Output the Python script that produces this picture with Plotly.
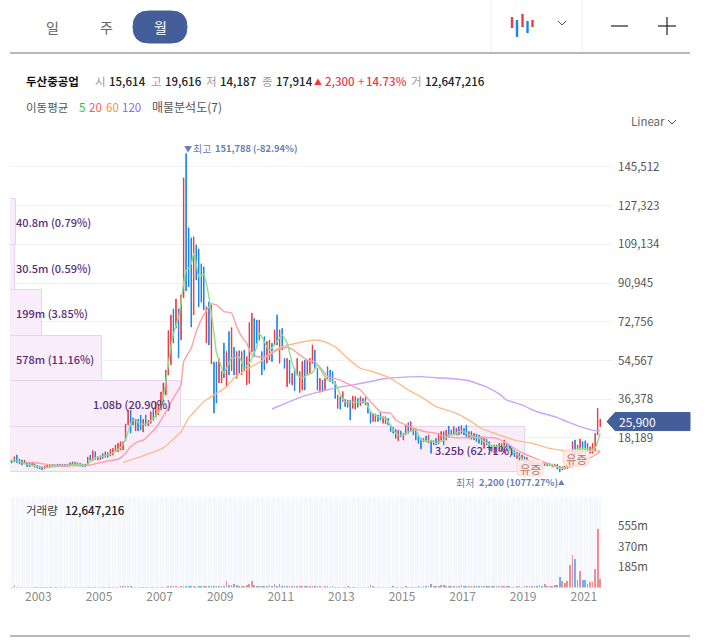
import pandas as pd
import plotly.graph_objects as go

FONT = "Noto Sans CJK KR"
W, H = 704, 643

# monthly candles, 2002-02 .. 2021-08
months = pd.date_range("2002-02-01", "2021-08-01", freq="MS")

hi = [7850,7850,9400,10200,8300,7800,7800,6900,6400,6400,6100,
      5400,5000,4700,5000,5400,5600,5800,5700,5800,5900,5900,5800,
      5900,6500,7000,6900,6600,6300,6000,5900,9200,10200,12200,11750,
      9400,9900,11000,11750,11300,12850,13300,14900,15700,16450,16450,24750,
      31350,31300,27600,27000,27000,29000,27000,29000,26500,30500,32000,35000,
      34000,39800,44000,50100,68600,76000,78800,83500,78800,85400,140400,151788,
      116900,112200,112700,108900,107000,100000,98600,79800,82100,80700,53900,53900,
      55300,49400,62800,58800,68200,70000,60800,58800,59200,58800,59500,56400,
      72400,76800,74400,73600,73600,58800,65800,63500,64200,62700,69000,76000,
      69000,69700,55600,55600,54800,48600,50900,55600,49400,54100,54800,54800,
      55600,61900,59500,50900,46200,45400,46200,51700,50100,49400,44700,38400,
      37600,40000,36400,36000,36000,37900,37600,36800,37600,36800,37300,34800,
      30600,29800,29500,29000,30100,28200,28200,27400,24300,23200,22300,21900,
      21500,20400,24300,25400,25900,22700,22300,19600,18000,18000,19100,19600,
      17250,16900,18000,20400,21200,21200,21900,23800,21900,23500,22700,23500,
      24000,22700,24300,21200,21200,20400,20100,19600,18800,18000,17600,16500,
      14900,14900,14900,15700,15700,17250,15700,14900,13300,12500,11450,11000,
      10200,9400,9100,7850,7100,6900,6600,6200,6300,6600,6300,6300,
      5950,5800,5800,5000,4700,5000,6000,7500,16500,17250,14900,17700,
      16500,16900,15700,14100,15700,20400,32100,27100]
lo = [6450,6500,7000,6600,6000,5500,6000,4700,4700,5000,4400,
      4000,3600,3300,3700,4300,4400,4600,4600,4700,4800,4800,4800,
      4900,5000,5200,5100,5000,4900,4700,4700,5500,7850,7500,8150,
      7850,8150,8600,9100,9100,9700,10200,11750,11750,12550,12550,16950,
      24300,20500,24300,21500,21500,22000,21000,24000,24000,25000,26500,28000,
      29000,31300,36000,38400,47800,52500,62800,69800,55800,64200,84000,87300,
      89200,70300,76000,92400,79800,82000,78300,62800,61900,53000,29900,34600,
      44000,44000,46400,42000,47800,49800,47800,46200,48600,47800,49400,43100,
      43900,58800,56400,62700,64200,47800,50100,53300,54800,54100,62000,61900,
      53300,59500,50900,42300,43900,43100,40400,47800,39500,40700,40700,47800,
      48600,53300,50900,40700,39600,39900,40700,46200,44700,43900,36800,32100,
      31700,35300,32900,32600,26600,32100,31700,32600,33400,34500,33700,29800,
      25100,25900,25900,25900,26600,25100,24750,24300,21200,20400,18000,16900,
      18800,17200,19600,20400,21200,19600,17200,15700,13000,16450,16450,16000,
      11000,14900,14900,15350,17200,14900,17200,18800,19600,19600,19600,19600,
      20100,19600,18800,18000,17600,17200,16500,15700,14900,13300,14900,12500,
      11800,11000,11800,11800,12200,11000,12500,12500,10200,9400,8600,7850,
      7550,6600,7100,5500,4700,4900,4400,4100,4700,5300,5000,5200,
      4700,4700,3500,2200,3100,3450,3800,4700,9400,10200,10200,11000,
      11300,11000,11800,11000,11000,11800,19600,23500]
rising = [0,0,1,0,0,0,1,0,0,1,0,
          0,0,0,1,1,0,1,0,1,0,1,0,
          1,1,0,1,0,0,0,1,1,0,1,0,
          1,1,0,1,0,1,1,1,1,1,1,1,
          1,0,0,1,0,0,1,0,1,1,0,1,
          1,1,1,1,1,1,0,1,0,1,1,0,
          0,0,1,0,0,0,0,1,0,1,0,0,
          1,1,0,1,0,1,0,1,0,1,0,1,
          1,1,0,0,1,0,0,1,1,0,1,0,
          1,0,0,1,0,1,0,1,1,1,0,1,
          1,1,0,0,1,0,1,0,0,0,0,1,
          0,1,0,1,0,1,1,0,1,0,1,0,
          0,1,1,0,0,1,1,0,0,0,0,1,
          0,1,1,0,1,0,0,0,0,1,0,1,
          0,1,0,1,1,0,1,0,1,0,1,0,
          1,0,0,1,0,1,0,0,0,1,0,0,
          0,1,0,1,1,1,0,0,0,0,1,0,
          1,0,1,0,1,0,0,0,0,1,0,1,
          1,1,0,0,1,1,1,1,1,0,1,1,
          0,0,0,1,1,1,1,1]
volume_m = [30,8,28,6,8,6,8,7,8,6,7,
            5,6,5,6,7,5,8,6,5,6,7,5,
            8,7,6,7,6,5,5,6,5,6,5,5,
            7,8,9,7,8,8,9,8,8,10,12,12,
            14,10,8,8,7,8,8,6,6,7,8,8,
            9,7,8,9,10,14,12,10,8,12,14,10,
            16,12,10,8,10,12,10,12,14,16,20,22,
            20,18,22,60,30,26,32,24,22,20,22,26,
            40,62,26,16,14,12,12,22,26,18,34,20,
            32,18,22,20,18,14,16,14,20,16,12,12,
            14,20,12,10,10,9,10,10,9,10,8,8,
            9,8,8,10,8,7,8,7,8,7,7,8,
            30,10,7,8,7,6,8,7,8,10,9,8,
            8,7,10,8,8,9,9,10,9,12,10,10,
            40,22,18,16,30,24,12,16,20,14,14,12,
            24,16,20,10,16,12,18,12,10,10,12,14,
            22,20,18,16,18,20,12,10,8,6,18,10,
            8,10,21,21,21,22,16,24,18,33,15,15,
            15,27,30,96,66,48,66,210,300,264,75,150,
            75,75,39,54,57,174,534,84]

# moving averages, month = months after 2003-01
ma5_m = [-11,-9,-7,-5,-3,-1,1,3,5,7,9,11,13,15,17,19,20,21,23,25,27,29,31,33,35,36,37,38,39,41,43,45,47,49,50,51,52,53,54,55,56,57,58,59,60,61,62,63,64,66,68,70,71,72,74,76,77,78,80,82,84,87,88,91,92,94,97,99,101,103,105,107,109,111,113,115,116,118,120,122,124,126,130,132,135,138,141,143,145,147,150,152,154,156,158,161,163,165,167,169,171,175,177,181,185,188,191,194,197,200,204,207,209,210,213,216,219,221,222,223]
ma5_v = [7200,7800,7000,6200,5500,5000,4500,4200,4600,5000,5200,5300,5400,5900,5700,5300,6000,7200,8900,9300,9900,10600,12000,13700,17500,21000,24700,26800,26500,24700,24700,26300,28500,32500,37000,45000,53000,61000,67000,71000,75000,82000,91000,97000,98000,100000,105000,100000,94000,95000,84500,67500,58100,54800,48700,53400,55800,55800,56300,51000,53400,61000,67500,61100,59500,61900,66600,62800,53400,47800,46400,47800,48900,52500,48700,45400,45400,44000,38400,35200,35100,34900,35200,30500,28200,27500,21900,19600,19600,20900,21900,17300,16900,16900,15700,17200,19600,19800,21200,21200,19600,18000,16500,14100,14100,12500,9400,7050,6400,6400,5500,4100,4200,5500,12500,13500,12500,13500,16500,20400]
ma20_m = [-4,-1,8,15,19,23,28,32,35,37,40,42,47,51,54,57,58,61,63,66,69,71,74,77,79,81,83,85,89,92,95,99,101,104,107,110,113,115,120,124,128,132,136,140,142,146,150,154,158,161,166,171,176,182,186,190,194,198,202,206,209,213,218,221,223]
ma20_v = [6600,6700,5000,5200,5200,6000,7400,8200,11000,14100,16500,17200,22900,30500,37000,43100,54000,60500,68100,76000,81200,80700,77600,76900,70500,65800,62700,57200,56100,57200,59500,60800,59900,57200,54800,54000,50100,47000,45400,43100,40700,35200,30500,29800,26600,24300,22400,21100,20400,18800,18300,18300,18500,18000,15700,12500,10200,8300,6400,4700,4000,5400,8300,10200,11800]
ma60_m = [34,41,50,57,60,66,70,75,78,84,89,93,97,103,110,114,118,123,128,133,140,146,153,158,166,171,176,183,189,196,203,209,216,223]
ma60_v = [6750,9400,13500,21100,27500,35200,38400,42200,46400,51100,54500,58700,61100,62800,64200,63400,61100,55600,50900,49300,46200,41500,36800,32900,29800,26600,22700,19600,17200,15700,13300,12200,11800,12200]
ma120_m = [93,99,105,113,121,129,137,145,152,158,166,171,178,183,186,192,198,205,210,216,220,223]
ma120_v = [31800,34800,37600,40300,42300,44000,45900,46800,47000,46500,45900,45100,42100,38900,36000,33700,30500,28200,25800,23200,21900,21400]

# 매물분석도
vp_price = [12885, 34255, 55625, 76995, 98365, 119735]
vp_volume = [3250, 1080, 578, 199, 30.5, 40.8]
vp_step = 21370
vp_labels = ["3.25b (62.71%)", "1.08b (20.90%)", "578m (11.16%)", "199m (3.85%)", "30.5m (0.59%)", "40.8m (0.79%)"]

price_ticks = [18189, 36378, 54567, 72756, 90945, 109134, 127323, 145512]
volume_ticks = [185, 370, 555]
year_ticks = [2003, 2005, 2007, 2009, 2011, 2013, 2015, 2017, 2019, 2021]
last_close = 25900


def px(x):
    return x / W


def py(y):
    return 1 - y / H


def month_dates(offsets):
    return [pd.Timestamp("2003-01-01") + pd.DateOffset(months=m) for m in offsets]


# pixel scale of the panes
LEFT, RIGHT = 10, 612
won_per_px = 469.8
main_top, main_bottom = 145, 476.7
vol_top, vol_bottom = 496.5, 587.5
m_per_px = 9.02
px_per_day = 2.525 * 12 / 365.25
t0 = pd.Timestamp("2003-01-01")
x_start = t0 - pd.Timedelta(days=(37.2 - LEFT) / px_per_day)
x_end = t0 + pd.Timedelta(days=(RIGHT - 37.2) / px_per_day)
x_range = [x_start, x_end]
domain_x = [px(LEFT), px(RIGHT)]

op = [l if u else h for h, l, u in zip(hi, lo, rising)]
cl = [h if u else l for h, l, u in zip(hi, lo, rising)]
RED, BLUE = "#ee3a3f", "#1a83ee"

fig = go.Figure()

fig.add_trace(go.Bar(
    x=vp_volume, y=vp_price, orientation="h", width=vp_step,
    marker=dict(color="#f9edfb", line=dict(color="#e6d3ee", width=1)),
    xaxis="x", yaxis="y", hoverinfo="skip",
))

fig.add_trace(go.Candlestick(
    x=months, open=op, high=hi, low=lo, close=cl, whiskerwidth=0,
    increasing=dict(line=dict(color=RED, width=1), fillcolor=RED),
    decreasing=dict(line=dict(color=BLUE, width=1), fillcolor=BLUE),
    xaxis="x2", yaxis="y",
))

ma_lines = [
    (ma120_m, ma120_v, "#c8a4fb"),
    (ma60_m, ma60_v, "#fdbd8b"),
    (ma20_m, ma20_v, "#fda0a4"),
    (ma5_m, ma5_v, "#8ede8a"),
]
for ma_m, ma_v, color in ma_lines:
    fig.add_trace(go.Scatter(
        x=month_dates(ma_m), y=ma_v, mode="lines",
        line=dict(color=color, width=1.4, shape="spline", smoothing=0.4),
        xaxis="x2", yaxis="y",
    ))

# stripes behind the volume pane, one per month
fig.add_trace(go.Bar(
    x=months, y=[(vol_bottom - vol_top) * m_per_px] * len(months), width=1.5e9,
    marker=dict(color="#f6f7fc", line=dict(width=0)),
    xaxis="x3", yaxis="y2", hoverinfo="skip",
))
fig.add_trace(go.Bar(
    x=months, y=volume_m, width=0.8e9,
    marker=dict(color=["#f08d90" if u else "#72b2f2" for u in rising], line=dict(width=0)),
    xaxis="x3", yaxis="y2",
))

fig.update_layout(
    width=W, height=H, margin=dict(l=0, r=0, t=0, b=0),
    paper_bgcolor="white", plot_bgcolor="white",
    showlegend=False, barmode="overlay", bargap=0, boxgap=0.75,
    font=dict(family=FONT, size=12, color="#444"),
    xaxis=dict(domain=domain_x, range=[0, (RIGHT - LEFT) * 6.31], visible=False, anchor="y"),
    xaxis2=dict(domain=domain_x, range=x_range, type="date", overlaying="x", anchor="y",
                visible=False, rangeslider=dict(visible=False)),
    xaxis3=dict(domain=domain_x, range=x_range, type="date", anchor="y2",
                tickvals=[f"{y}-01-15" for y in year_ticks], ticktext=[str(y) for y in year_ticks],
                ticks="", showgrid=False, zeroline=False, showline=False,
                tickfont=dict(size=12, color="#8a8a8a", family=FONT)),
    yaxis=dict(domain=[py(main_bottom), py(main_top)],
               range=[0, (main_bottom - main_top) * won_per_px],
               side="right", anchor="x", tickvals=price_ticks,
               ticktext=[f"{v:,}" for v in price_ticks], ticklabelstandoff=5,
               gridcolor="#f2f2f6", gridwidth=1, zeroline=False, ticks="", showline=False,
               tickfont=dict(size=11.5, color="#555", family=FONT)),
    yaxis2=dict(domain=[py(vol_bottom), py(vol_top)],
                range=[0, (vol_bottom - vol_top) * m_per_px],
                side="right", anchor="x3", tickvals=volume_ticks,
                ticktext=[f"{v}m" for v in volume_ticks], ticklabelstandoff=5,
                showgrid=False, zeroline=False, ticks="", showline=False,
                tickfont=dict(size=11.5, color="#555", family=FONT)),
)


def rect(x0, y0, x1, y1, fill=None, line=None, lw=1):
    fig.add_shape(type="rect", xref="paper", yref="paper",
                  x0=px(x0), x1=px(x1), y0=py(y0), y1=py(y1),
                  fillcolor=fill, line=dict(color=line, width=lw if line else 0))


def segment(x0, y0, x1, y1, color, lw=1):
    fig.add_shape(type="line", xref="paper", yref="paper",
                  x0=px(x0), x1=px(x1), y0=py(y0), y1=py(y1),
                  line=dict(color=color, width=lw))


def rounded(x0, y0, x1, y1, r, fill, line=None):
    a, b, c, d = px(x0), py(y0), px(x1), py(y1)
    rx, ry = r / W, r / H
    path = (f"M {a+rx} {b} L {c-rx} {b} Q {c} {b} {c} {b-ry} L {c} {d+ry} Q {c} {d} {c-rx} {d} "
            f"L {a+rx} {d} Q {a} {d} {a} {d+ry} L {a} {b-ry} Q {a} {b} {a+rx} {b} Z")
    fig.add_shape(type="path", xref="paper", yref="paper", path=path, fillcolor=fill,
                  line=dict(color=line or fill, width=1))


def label(x, y, text, size=12, color="#444", anchor="left", weight=None):
    fig.add_annotation(xref="paper", yref="paper", x=px(x), y=py(y), text=text, showarrow=False,
                       xanchor=anchor, yanchor="middle", align=anchor, borderpad=0,
                       font=dict(family=FONT, size=size, color=color, weight=weight))


def chevron(x, y):
    fig.add_shape(type="path", xref="paper", yref="paper",
                  path=f"M {px(x-4)} {py(y-2)} L {px(x)} {py(y+2)} L {px(x+4)} {py(y-2)}",
                  line=dict(color="#555", width=1))


# top bar
segment(491, 0, 491, 52, "#eeeeee")
segment(582, 0, 582, 52, "#eeeeee")
segment(10, 53, 690, 53, "#6b7280", 1.2)
segment(10, 636, 690, 636, "#6b7280", 1.2)
rounded(133, 11, 187, 43, 16, "#435e99")
label(52, 27, "일", 14, "#666", "center")
label(106, 27, "주", 14, "#666", "center")
label(160, 27, "월", 14, "white", "center")
for x, y0, y1, c in [(512, 17, 28, "#ef3b3f"), (517, 20, 37, "#1a83ee"), (522.5, 14, 27, "#ef3b3f"),
                     (527.5, 21, 33, "#1a83ee"), (532.5, 20, 27, "#ef3b3f")]:
    rect(x - 1.2, y0, x + 1.2, y1, fill=c)
chevron(562, 23)
segment(611, 26, 628, 26, "#222", 1.2)
segment(658, 26, 676, 26, "#222", 1.2)
segment(667, 17, 667, 35, "#222", 1.2)

# info rows
label(25, 81, "두산중공업", 11.5, "#111", weight=700)
for x, t, c, w, s in [(93.5, "시", "#999", None, 11.5), (107.5, "15,614", "#222", 500, 11.5), (149.5, "고", "#999", None, 11.5),
                      (164, "19,616", "#222", 500, 11.5), (205, "저", "#999", None, 11.5), (219, "14,187", "#222", 500, 11.5),
                      (260.5, "종", "#999", None, 11.5), (274.5, "17,914", "#222", 500, 11.5),
                      (313, "▲", "#ee3a3f", None, 8), (323.5, "2,300", "#ee3a3f", 500, 11.5),
                      (356.5, "+", "#ee3a3f", None, 11.5), (365, "14.73%", "#ee3a3f", 500, 11.5),
                      (409.5, "거", "#999", None, 11.5), (423.5, "12,647,216", "#222", 500, 11.5)]:
    label(x, 81, t, s, c, weight=w)
label(25, 107, "이동평균", 11.5, "#555")
label(78, 107, "5", 11.5, "#2fc22f")
label(88, 107, "20", 11.5, "#f4566a")
label(105, 107, "60", 11.5, "#f8914a")
label(121, 107, "120", 11.5, "#9a5cf6")
label(151, 107, "매물분석도(7)", 12, "#555")
label(630, 121, "Linear", 11.5, "#666")
chevron(672, 122)

# 매물분석도 labels
PURPLE = "#5a2e72"
for t, y in zip(vp_labels[2:], [358.5, 313, 267.5, 222]):
    label(15, y, t, 11, PURPLE, weight=500)
label(92, 404, vp_labels[1], 11, PURPLE, weight=500)
label(434, 449.5, vp_labels[0], 11, PURPLE, weight=500)

# high / low marks
MARK = "#6a80b5"
label(183, 148, "▼", 8, MARK)
label(192, 148, "최고", 10, MARK)
label(214, 148, "151,788 (-82.94%)", 9.3, MARK, weight=700)
label(455, 482, "최저", 10, MARK)
label(478, 482, "2,200 (1077.27%)", 9.3, MARK, weight=700)
label(557, 482, "▲", 6.5, MARK)

# 유증 tags
for x0, y0 in [(517, 460), (563, 450)]:
    rounded(x0, y0, x0 + 26, y0 + 16, 4, "rgba(253,234,230,0.85)", "#f7d8d2")
    label(x0 + 13, y0 + 8.5, "유증", 11.5, "#b8736a", "center")

# 거래량 caption
label(25, 510, "거래량", 11.5, "#444")
label(64, 510, "12,647,216", 11.5, "#222", weight=500)

# last price tag
tag_y = main_bottom - last_close / won_per_px
fig.add_shape(type="path", xref="paper", yref="paper",
              path=(f"M {px(607)} {py(tag_y)} L {px(615)} {py(tag_y-9)} L {px(690)} {py(tag_y-9)} "
                    f"L {px(690)} {py(tag_y+9)} L {px(615)} {py(tag_y+9)} Z"),
              fillcolor="#435e99", line=dict(color="#435e99", width=1))
label(618, tag_y, f"{last_close:,}", 12, "white")

fig.write_html("out.html", post_script="document.body.style.margin='0';",
               config={"displayModeBar": False})
